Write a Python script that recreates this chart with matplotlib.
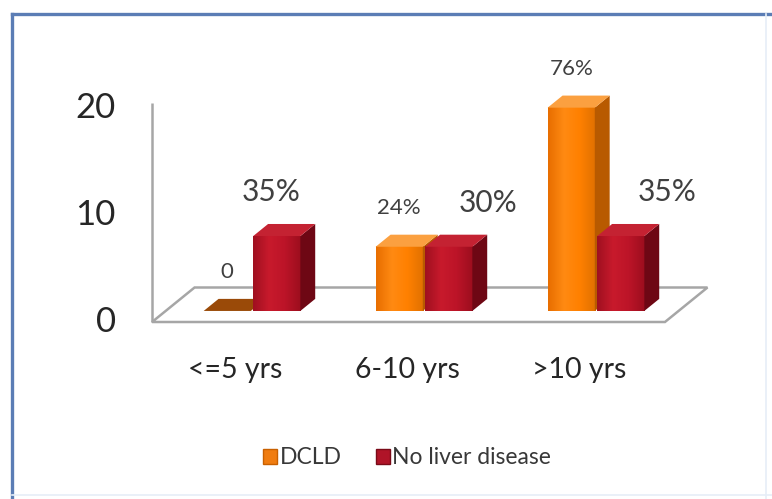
import numpy as np
import matplotlib
matplotlib.use("Agg")
import matplotlib.pyplot as plt
from matplotlib.patches import Polygon, Patch
from matplotlib.lines import Line2D
from matplotlib.colors import LinearSegmentedColormap

# ---- data -------------------------------------------------------------
categories = ["<=5 yrs", "6-10 yrs", ">10 yrs"]
series_names = ["DCLD", "No liver disease"]
dcld = [0, 6, 19]
no_liver = [7, 6, 7]
dcld_labels = ["0", "24%", "76%"]
no_liver_labels = ["35%", "30%", "35%"]
y_ticks = [0, 10, 20]

plt.rcParams["font.family"] = ["Lato", "DejaVu Sans"]

# ---- canvas / projection ----------------------------------------------
W, H = 772, 499
fig = plt.figure(figsize=(W / 100, H / 100), dpi=100)
ax = fig.add_axes([0, 0, 1, 1])
ax.axis("off")

XS, YS = 172.0, 10.7        # pixels per category step / per value unit
X0, Y0 = 238.4, 322.0       # pixel position of category 0 / value 0 (front plane)
DX, DY = 42.5 / XS, 34.5 / YS   # oblique offset of the full floor depth


def proj(x, v, d):
    """Oblique projection of (category x, value v, depth d in 0..1)."""
    return (x + d * DX, v + d * DY)


# floor and wall
floor_x0, floor_x1 = -0.502, 2.48
floor = Polygon([proj(floor_x0, 0, 0), proj(floor_x1, 0, 0),
                 proj(floor_x1, 0, 1), proj(floor_x0, 0, 1)],
                closed=True, facecolor="white", edgecolor="#A6A6A6",
                linewidth=1.8, zorder=1, joinstyle="miter")
ax.add_patch(floor)
ax.plot([floor_x0, floor_x0], [0, 20.5], color="#A6A6A6", lw=1.8,
        zorder=2, solid_capstyle="butt")

# value axis labels on the front plane
for t in y_ticks:
    ax.text(floor_x0 - 0.21, t, str(t), ha="right", va="center",
            fontsize=25, color="#262626")

# category labels
for i, c in enumerate(categories):
    ax.text(i - 0.02, -4.5, c, ha="center", va="center", fontsize=20.5,
            color="#262626")

# ---- bars --------------------------------------------------------------
BW, GAP = 0.274, 0.007
D0, D1 = 0.32, 0.67

styles = {
    "DCLD": dict(front=["#E86E00", "#FF8A12", "#FF8000", "#E07000"],
                 side="#B85A00", top="#FBA040", flat="#9A4A08"),
    "No liver disease": dict(front=["#A01020", "#C81A2C", "#BC1428", "#9C0E1E"],
                             side="#6E0714", top="#C42232", flat="#7A0A18"),
}


def draw_bar(x0, x1, v, st, z):
    if v <= 0:
        flat = Polygon([proj(x0, 0, D0), proj(x1, 0, D0),
                        proj(x1, 0, D1), proj(x0, 0, D1)],
                       closed=True, facecolor=st["flat"], edgecolor="none",
                       zorder=z)
        ax.add_patch(flat)
        return
    fx0, fy0 = proj(x0, 0, D0)
    fx1, fy1 = proj(x1, v, D0)
    cmap = LinearSegmentedColormap.from_list("f", st["front"])
    grad = np.linspace(0, 1, 64).reshape(1, -1)
    ax.imshow(grad, cmap=cmap, extent=[fx0, fx1, fy0, fy1], aspect="auto",
              interpolation="bilinear", zorder=z, origin="lower")
    side = Polygon([proj(x1, 0, D0), proj(x1, 0, D1),
                    proj(x1, v, D1), proj(x1, v, D0)],
                   closed=True, facecolor=st["side"], edgecolor="none",
                   zorder=z)
    top = Polygon([proj(x0, v, D0), proj(x1, v, D0),
                   proj(x1, v, D1), proj(x0, v, D1)],
                  closed=True, facecolor=st["top"], edgecolor="none",
                  zorder=z)
    ax.add_patch(side)
    ax.add_patch(top)


for i in range(len(categories)):
    draw_bar(i - GAP - BW, i - GAP, dcld[i], styles["DCLD"], 3 + 2 * i)
    draw_bar(i + GAP, i + GAP + BW, no_liver[i], styles["No liver disease"],
             4 + 2 * i)

# ---- value labels ------------------------------------------------------
no_liver_label_shift = [-0.03, 0.23, 0.27]
for i in range(len(categories)):
    cx, cy = proj(i - GAP - BW / 2, dcld[i], D0)
    ax.text(cx, cy + 3.6, dcld_labels[i], ha="center", va="center",
            fontsize=16, color="#404040", zorder=20)
    cx, cy = proj(i + GAP + BW / 2 + no_liver_label_shift[i], no_liver[i], D0)
    ax.text(cx, cy + 4.1, no_liver_labels[i], ha="center", va="center",
            fontsize=21.5, color="#404040", zorder=20)

ax.set_xlim(-X0 / XS, (W - X0) / XS)
ax.set_ylim((Y0 - H) / YS, Y0 / YS)

# ---- legend ------------------------------------------------------------
handles = [Patch(facecolor="#F07C10", edgecolor="#C86000", label=series_names[0]),
           Patch(facecolor="#B01428", edgecolor="#7A0A18", label=series_names[1])]
fig.legend(handles=handles, loc="center", bbox_to_anchor=(407 / W, 1 - 458 / H),
           ncol=2, frameon=False, fontsize=16.5, handlelength=0.6,
           handleheight=0.6, handletextpad=0.1, columnspacing=1.5,
           labelcolor="#383838")

# ---- outer frame -------------------------------------------------------
fl, ft = 12 / W, 1 - 14 / H
fig.add_artist(Line2D([fl, fl], [0, ft], transform=fig.transFigure,
                      color="#5B7DB5", lw=2.4))
fig.add_artist(Line2D([fl, 1], [ft, ft], transform=fig.transFigure,
                      color="#5B7DB5", lw=2.4))
fig.add_artist(Line2D([766 / W, 766 / W], [0, ft], transform=fig.transFigure,
                      color="#E6EEF7", lw=1.2))
fig.add_artist(Line2D([fl, 1], [4 / H, 4 / H], transform=fig.transFigure,
                      color="#E6EEF7", lw=1.2))

fig.savefig("out.png", dpi=100, facecolor="white")
